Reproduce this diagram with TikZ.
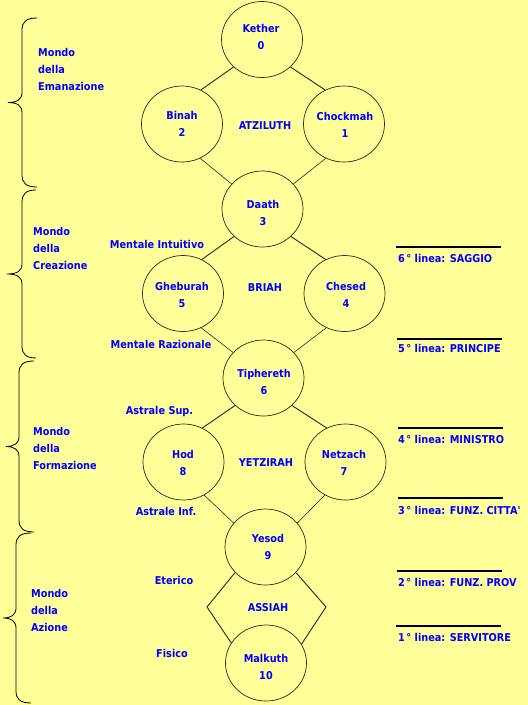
\documentclass[tikz,border=0pt]{standalone}
\usepackage{fontspec}
\setmainfont{DejaVu Sans Condensed}[Ligatures=TeXOff]
\usetikzlibrary{shapes.geometric}
\definecolor{bg}{RGB}{255,255,153}
\definecolor{txt}{RGB}{0,0,255}
\definecolor{rim}{RGB}{40,40,30}
\newcommand{\mybrace}[5]{%
  \pgfmathsetmacro{\bym}{(#4+#5)/2}%
  \draw[bracestyle] (#1,#4) .. controls (#2+4,#4) and (#2,#4+4) .. (#2,#4+12)
    -- (#2,\bym-10) .. controls (#2,\bym-3) and (#2-5,\bym) .. (#3,\bym)
    .. controls (#2-5,\bym) and (#2,\bym+3) .. (#2,\bym+10)
    -- (#2,#5-12) .. controls (#2,#5-4) and (#2+4,#5) .. (#1,#5);}
\begin{document}
\begin{tikzpicture}[x=1pt,y=-1pt,
  every node/.style={font=\fontsize{10.8}{17}\selectfont\bfseries, text=txt},
  sefira/.style={ellipse, draw=rim, line width=0.7pt, minimum width=81pt, minimum height=76pt, inner sep=0pt},
  lab/.style={inner sep=0pt, align=center},
  world/.style={inner sep=0pt, align=left, anchor=west},
  grade/.style={inner sep=0pt, anchor=west},
  thickpath/.style={draw=rim, line width=0.9pt},
  thinpath/.style={draw=rim, line width=0.6pt},
  bracestyle/.style={draw=black, line width=0.8pt},
  rule/.style={draw=black, line width=1.4pt}]
\fill[bg] (0,0) rectangle (528,705);
\useasboundingbox (0,0) rectangle (528,705);

% sefirot
\node[sefira] (kether)    at (262,39.5)  {};
\node[sefira] (binah)     at (182,124)   {};
\node[sefira] (chockmah)  at (344,124)   {};
\node[sefira] (daath)     at (262.5,209) {};
\node[sefira] (gheburah)  at (183,293.5) {};
\node[sefira] (chesed)    at (344.5,293.5) {};
\node[sefira] (tiphereth) at (263.5,378) {};
\node[sefira] (hod)       at (183.5,462) {};
\node[sefira] (netzach)   at (345.5,462) {};
\node[sefira] (yesod)     at (265.5,547) {};
\node[sefira] (malkuth)   at (266,663)   {};

\node[lab] (ketherT)    at (261,36.5)  {Kether\\0};
\node[lab] (binahT)     at (182,123.5) {Binah\\2};
\node[lab] (chockmahT)  at (345,124.5) {Chockmah\\1};
\node[lab] (daathT)     at (263,212.5) {Daath\\3};
\node[lab] (gheburahT)  at (182,295)   {Gheburah\\5};
\node[lab] (chesedT)    at (346,294.5) {Chesed\\4};
\node[lab] (tipherethT) at (264,381.5) {Tiphereth\\6};
\node[lab] (hodT)       at (183,463)   {Hod\\8};
\node[lab] (netzachT)   at (344,462.5) {Netzach\\7};
\node[lab] (yesodT)     at (268,547)   {Yesod\\9};
\node[lab] (malkuthT)   at (266,666.5) {Malkuth\\10};

% connectors
\draw[thickpath] (kether.224) -- (binah.61);
\draw[thickpath] (kether.316) -- (chockmah.119);
\draw[thinpath] (binah.298) -- (daath.141);
\draw[thinpath] (chockmah.242) -- (daath.39);
\draw[thickpath] (daath.224) -- (gheburah.61);
\draw[thickpath] (daath.316) -- (chesed.119);
\draw[thinpath] (gheburah.298) -- (tiphereth.140);
\draw[thinpath] (chesed.242) -- (tiphereth.40);
\draw[thickpath] (tiphereth.224) -- (hod.61);
\draw[thickpath] (tiphereth.316) -- (netzach.119);
\draw[thinpath] (hod.302) -- (yesod.143);
\draw[thinpath] (netzach.238) -- (yesod.37);
\coordinate (aL) at (207,607);
\coordinate (aR) at (326,607);
\draw[thickpath] (yesod.220) -- (aL) -- (malkuth.150);
\draw[thickpath] (yesod.320) -- (aR) -- (malkuth.28);

% world names in the middle
\node[lab] (atz) at (265,126) {ATZILUTH};
\node[lab] (bri) at (265,288) {BRIAH};
\node[lab] (yet) at (266,463) {YETZIRAH};
\node[lab] (ass) at (268,608) {ASSIAH};

% planes
\node[lab] (mi)  at (157,244) {Mentale Intuitivo};
\node[lab] (mr)  at (161,344) {Mentale Razionale};
\node[lab] (as)  at (159.5,412) {Astrale Sup.};
\node[lab] (ai)  at (166,511) {Astrale Inf.};
\node[lab] (et)  at (174,580) {Eterico};
\node[lab] (fi)  at (172,653) {Fisico};

% worlds on the left
\node[world] (w1) at (38,69)  {Mondo\\della\\Emanazione};
\node[world] (w2) at (33,248) {Mondo\\della\\Creazione};
\node[world] (w3) at (33,448) {Mondo\\della\\Formazione};
\node[world] (w4) at (31,610) {Mondo\\della\\Azione};

\mybrace{37}{22}{8}{18}{187}
\mybrace{36}{22}{7}{190}{358}
\mybrace{34}{19}{6}{361}{532}
\mybrace{31}{16}{3}{533}{703}

% grades on the right
\draw[rule] (396,247) -- (501,247);
\node[grade] (g6) at (398,258) {6\kern1.5pt° linea: SAGGIO};
\draw[rule] (397,339) -- (502,339);
\node[grade] (g5) at (398,348) {5\kern1.5pt° linea: PRINCIPE};
\draw[rule] (398,428) -- (503,428);
\node[grade] (g4) at (398,439) {4\kern1.5pt° linea: MINISTRO};
\draw[rule] (398,498) -- (503,498);
\node[grade] (g3) at (398,510) {3\kern1.5pt° linea: FUNZ. CITTA'};
\draw[rule] (397,571) -- (502,571);
\node[grade] (g2) at (398,582) {2\kern1.5pt° linea: FUNZ. PROV};
\draw[rule] (396,626) -- (501,626);
\node[grade] (g1) at (398,637) {1\kern1.5pt° linea: SERVITORE};
\end{tikzpicture}
\end{document}
